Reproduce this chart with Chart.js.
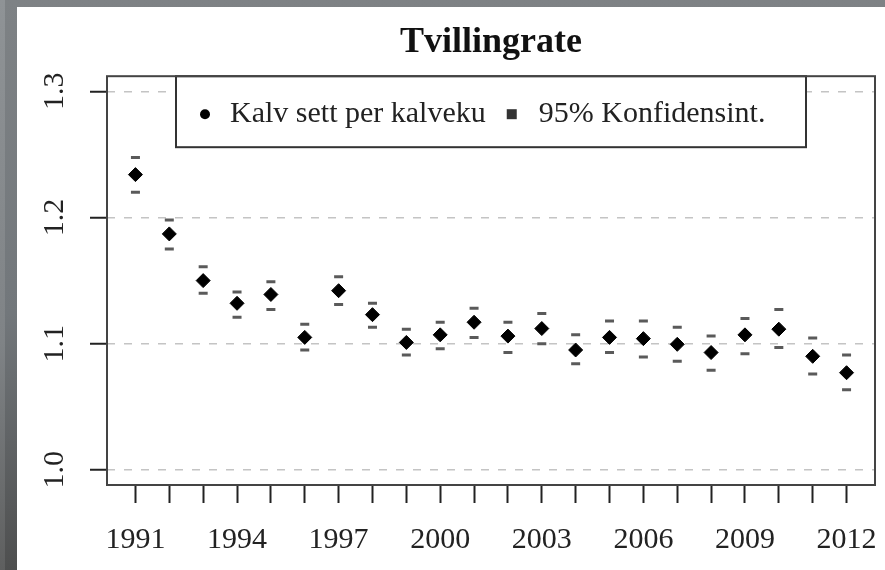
<!DOCTYPE html>
<html><head><meta charset="utf-8">
<script src="https://cdn.jsdelivr.net/npm/chart.js@4/dist/chart.umd.min.js"></script>
<style>
html,body{margin:0;padding:0;width:885px;height:570px;overflow:hidden;background:linear-gradient(to bottom,#7e8285 0%,#72777b 55%,#4e4f4f 100%);}
#strip{position:absolute;left:0;top:0;width:5px;height:570px;background:linear-gradient(to bottom,#8f9396,#7f8386 60%,#5e5f5f);}
#wrap{position:absolute;left:17px;top:7px;width:868px;height:563px;background:#fff;}
</style></head><body>
<div id="strip"></div>
<div id="wrap"><canvas id="c" width="868" height="563"></canvas></div>
<script>
const years = [1991,1992,1993,1994,1995,1996,1997,1998,1999,2000,2001,2002,2003,2004,2005,2006,2007,2008,2009,2010,2011,2012];
const rate    = [1.234,1.187,1.150,1.132,1.139,1.105,1.142,1.123,1.101,1.107,1.117,1.106,1.112,1.095,1.105,1.104,1.0995,1.093,1.107,1.1115,1.090,1.077];
const ciUpper = [1.2475,1.198,1.161,1.141,1.149,1.1155,1.153,1.132,1.1115,1.117,1.128,1.117,1.124,1.107,1.118,1.118,1.113,1.106,1.120,1.127,1.1045,1.091];
const ciLower = [1.220,1.175,1.140,1.121,1.127,1.095,1.131,1.113,1.091,1.096,1.105,1.093,1.100,1.084,1.093,1.0895,1.086,1.079,1.092,1.097,1.076,1.0635];
const xTickLabels = ['1991','1994','1997','2000','2003','2006','2009','2012'];
const yTickValues = [1.0,1.1,1.2,1.3];
const legendLabels = ['Kalv sett per kalveku','95% Konfidensint.'];
const titleText = 'Tvillingrate';

const FONT = '"Liberation Serif", "Times New Roman", serif';

const decor = {
  id: 'decor',
  beforeDatasetsDraw(chart) {
    const ctx = chart.ctx, a = chart.chartArea;
    const cx = (a.left + a.right) / 2;
    const L = cx - 315, T = a.top, W = 630, H = 71;
    ctx.save();
    ctx.fillStyle = '#fff';
    ctx.fillRect(L, T, W, H);
    ctx.strokeStyle = '#333';
    ctx.lineWidth = 2;
    ctx.strokeRect(L, T, W, H);
    const y = T + 38;
    ctx.font = '30px ' + FONT;
    ctx.textBaseline = 'middle';
    ctx.textAlign = 'left';
    let x = L + 29;
    ctx.beginPath(); ctx.arc(x, y, 5, 0, Math.PI * 2); ctx.fillStyle = '#000'; ctx.fill();
    let tx = x + 25;
    ctx.fillStyle = '#222';
    ctx.fillText(legendLabels[0], tx, y);
    const w1 = ctx.measureText(legendLabels[0]).width;
    x = tx + w1 + 26;
    ctx.fillStyle = '#333';
    ctx.fillRect(x - 5, y - 5, 10, 10);
    ctx.fillStyle = '#222';
    ctx.fillText(legendLabels[1], x + 27, y);
    ctx.restore();
  },
  afterDraw(chart) {
    const ctx = chart.ctx, a = chart.chartArea;
    ctx.save();
    ctx.strokeStyle = '#444';
    ctx.lineWidth = 2;
    ctx.strokeRect(a.left, a.top, a.right - a.left, a.bottom - a.top);
    ctx.restore();
  }
};

new Chart(document.getElementById('c'), {
  type: 'scatter',
  data: {
    datasets: [
      { label: legendLabels[0], data: years.map((x, i) => ({x, y: rate[i]})),
        pointStyle: 'rectRot', pointRadius: 7, backgroundColor: '#000', borderColor: '#000', borderWidth: 1, showLine: false },
      { label: legendLabels[1], data: years.map((x, i) => ({x, y: ciUpper[i]})),
        pointStyle: 'line', pointRadius: 4.5, borderColor: '#5a5a5a', backgroundColor: '#5a5a5a', borderWidth: 3, showLine: false },
      { label: legendLabels[1], data: years.map((x, i) => ({x, y: ciLower[i]})),
        pointStyle: 'line', pointRadius: 4.5, borderColor: '#5a5a5a', backgroundColor: '#5a5a5a', borderWidth: 3, showLine: false }
    ]
  },
  options: {
    responsive: false,
    animation: false,
    events: [],
    layout: { padding: { left: 0, right: 10, top: 0, bottom: 0 } },
    plugins: {
      legend: { display: false },
      tooltip: { enabled: false },
      title: { display: true, fullSize: false, text: titleText, color: '#111',
        font: { family: FONT, size: 36, weight: 'bold' }, padding: { top: 14, bottom: 12 } }
    },
    scales: {
      x: {
        type: 'linear', min: 1990.16, max: 2012.84,
        afterBuildTicks: s => { s.ticks = years.map(v => ({value: v})); },
        afterFit: s => { s.height = 85; s.paddingLeft = 0; s.paddingRight = 0; },
        grid: { drawOnChartArea: false, drawTicks: true, tickLength: 18, tickColor: '#222', tickWidth: 2 },
        border: { display: false },
        ticks: { autoSkip: false, minRotation: 0, maxRotation: 0, padding: 19, color: '#222',
          font: { family: FONT, size: 30 },
          callback: v => xTickLabels.includes(String(v)) ? String(v) : '' }
      },
      y: {
        min: 0.988, max: 1.312,
        afterBuildTicks: s => { s.ticks = yTickValues.map(v => ({value: v})); },
        afterFit: s => { s.width = 90; s.paddingTop = 0; s.paddingBottom = 0; },
        grid: { color: '#c4c4c4', lineWidth: 1.5, drawTicks: true, tickLength: 17, tickColor: '#222', tickWidth: 2,
          tickBorderDash: [], borderDash: [8, 9] },
        border: { display: false, dash: [8, 9] },
        ticks: { minRotation: 90, maxRotation: 90, crossAlign: 'center', padding: 16, color: '#222',
          font: { family: FONT, size: 30 },
          callback: v => v.toFixed(1) }
      }
    }
  },
  plugins: [decor]
});
</script>
</body></html>
